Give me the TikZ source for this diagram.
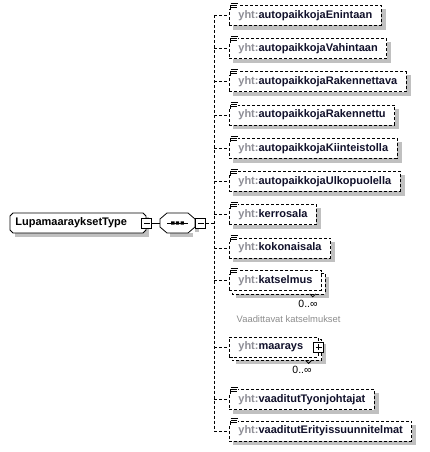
\documentclass[tikz,border=0pt]{standalone}
\usepackage{fontspec}
\setmainfont{Liberation Sans}
\usetikzlibrary{backgrounds,calc}
\definecolor{nsgray}{HTML}{8E8E96}
\definecolor{nametext}{HTML}{10102A}
\definecolor{notegray}{HTML}{8C8C8C}
\definecolor{boxshade}{HTML}{C0C0C0}
\begin{document}
\begin{tikzpicture}[x=1bp, y=-1bp, line width=0.8bp,
		elem/.style={draw, dash pattern=on 3bp off 2bp, fill=white, anchor=west,
			minimum height=20bp, inner xsep=9bp, inner ysep=0pt, text height=8bp, text depth=2.5bp,
			font=\fontsize{11bp}{13bp}\selectfont\bfseries, text=nametext},
		typename/.style={anchor=west, text width=126bp, align=left, minimum height=20bp, inner xsep=5bp,
			inner ysep=0pt, text height=8bp, text depth=2.5bp, font=\fontsize{11bp}{13bp}\selectfont\bfseries},
		minusbox/.style={draw, solid, fill=white, minimum size=10bp, inner sep=0pt,
			path picture={\draw ([xshift=2bp]path picture bounding box.west) -- ([xshift=-2bp]path picture bounding box.east);}},
		plusbox/.style={draw, solid, fill=white, minimum size=10bp, inner sep=0pt,
			path picture={\draw ([xshift=2bp]path picture bounding box.west) -- ([xshift=-2bp]path picture bounding box.east)
				([yshift=2bp]path picture bounding box.south) -- ([yshift=-2bp]path picture bounding box.north);}},
		conn/.style={dash pattern=on 3bp off 2bp},
		shadowbar/.style={anchor=north west, inner sep=0pt, outer sep=0pt},
		mult/.style={font=\fontsize{10.5bp}{12bp}\selectfont},
		note/.style={font=\fontsize{9.4bp}{11bp}\selectfont, text=notegray, anchor=west},
		simpleicon/.pic={
			\fill[white] (-1,-3.5) rectangle (9,4);
			\draw[solid, line width=0.7bp] (1.5,-2) -- (8.5,-2) (2,0) -- (8,0) (2,2) -- (8,2) (1,0) -- (1,4.5);
		}
	]
	\useasboundingbox (0,0) rectangle (429,452);

	% type box and sequence compositor
	\node[shadowbar] (lupashadow) at (15,217) {\color{boxshade}\rule{134bp}{20bp}};
	\node[shadowbar] (seqshadowa) at (170,233) {\color{boxshade}\rule{23bp}{4bp}};
	\node[shadowbar] (seqshadowb) at (195,222) {\color{boxshade}\rule{4bp}{10bp}};
	\filldraw[fill=white] (13,213) -- (143,213) -- (146,216) -- (146,230) -- (143,233) -- (13,233) -- (10,230) -- (10,216) -- cycle;
	\filldraw[fill=white] (167,213) -- (188,213) -- (195,219) -- (195,227) -- (188,233) -- (167,233) -- (160,227) -- (160,219) -- cycle;
	\node[typename] (lupa) at (10,223) {LupamaarayksetType};
	\node[minimum width=35bp, minimum height=20bp, inner sep=0pt] (seq) at (177.5,223) {};
	\node[minusbox] (lupaminus) at (lupa.east) {};
	\node[minusbox, anchor=west] (seqminus) at (seq.east) {};
	\draw ([xshift=-10.5bp]seq.center) -- ([xshift=10.5bp]seq.center);
	\fill ([xshift=-6.4bp,yshift=-1.7bp]seq.center) rectangle ([xshift=-3bp,yshift=1.7bp]seq.center)
		([xshift=-1.7bp,yshift=-1.7bp]seq.center) rectangle ([xshift=1.7bp,yshift=1.7bp]seq.center)
		([xshift=3bp,yshift=-1.7bp]seq.center) rectangle ([xshift=6.4bp,yshift=1.7bp]seq.center);
	\draw (lupaminus) -- (seq);

	% child elements
	\node[elem] (e1) at (229,15.5) {{\color{nsgray}yht:}autopaikkojaEnintaan};
	\node[elem] (e2) at (229,48.7) {{\color{nsgray}yht:}autopaikkojaVahintaan};
	\node[elem] (e3) at (229,81.9) {{\color{nsgray}yht:}autopaikkojaRakennettava};
	\node[elem] (e4) at (229,115.1) {{\color{nsgray}yht:}autopaikkojaRakennettu};
	\node[elem] (e5) at (229,148.3) {{\color{nsgray}yht:}autopaikkojaKiinteistolla};
	\node[elem] (e6) at (229,181.5) {{\color{nsgray}yht:}autopaikkojaUlkopuolella};
	\node[elem] (e7) at (229,214.7) {{\color{nsgray}yht:}kerrosala};
	\node[elem] (e8) at (229,247.9) {{\color{nsgray}yht:}kokonaisala};
	\node[elem] (kat) at (229,280.5) {{\color{nsgray}yht:}katselmus};
	\node[elem] (maar) at (229,347) {{\color{nsgray}yht:}maarays\hspace*{6bp}};
	\node[plusbox] (maarplus) at (maar.east) {};
	\node[elem] (e11) at (229,399.5) {{\color{nsgray}yht:}vaaditutTyonjohtajat};
	\node[elem] (e12) at (229,431) {{\color{nsgray}yht:}vaaditutErityissuunnitelmat};

	% shadows and repeated boxes
	\begin{scope}[on background layer]
		\foreach \el in {e1,e2,e3,e4,e5,e6,e7,e8,e11,e12}
			\path let \p1=(\el.north west), \p2=(\el.south east) in
				node[shadowbar] (\el shadow) at ([shift={(4bp,-4bp)}]\el.north west)
				{\color{boxshade}\rule{\dimexpr\x2-\x1\relax}{\dimexpr\y1-\y2\relax}};
		\foreach \el in {kat,maar}{
			\path let \p1=(\el.north west), \p2=(\el.south east) in
				node[shadowbar] (\el shadow) at ([shift={(7bp,-7bp)}]\el.north west)
				{\color{boxshade}\rule{\dimexpr\x2-\x1\relax}{\dimexpr\y1-\y2\relax}};
			\draw[conn, fill=white] ([shift={(3bp,-3bp)}]\el.north west) rectangle ([shift={(3bp,-3bp)}]\el.south east);
		}
	\end{scope}

	% connectors
	\coordinate (trunk) at (214,223);
	\draw[conn] (seqminus) -- (trunk);
	\draw[conn] (trunk |- e1.west) -- (trunk |- e12.west);
	\draw[conn] (trunk |- e1.west) -- (e1.west);
	\draw[conn] (trunk |- e2.west) -- (e2.west);
	\draw[conn] (trunk |- e3.west) -- (e3.west);
	\draw[conn] (trunk |- e4.west) -- (e4.west);
	\draw[conn] (trunk |- e5.west) -- (e5.west);
	\draw[conn] (trunk |- e6.west) -- (e6.west);
	\draw[conn] (trunk |- e7.west) -- (e7.west);
	\draw[conn] (trunk |- e8.west) -- (e8.west);
	\draw[conn] (trunk |- kat.west) -- (kat.west);
	\draw[conn] (trunk |- maar.west) -- (maar.west);
	\draw[conn] (trunk |- e11.west) -- (e11.west);
	\draw[conn] (trunk |- e12.west) -- (e12.west);

	% simple content icons
	\pic at (e1.north west) {simpleicon};
	\pic at (e2.north west) {simpleicon};
	\pic at (e3.north west) {simpleicon};
	\pic at (e4.north west) {simpleicon};
	\pic at (e5.north west) {simpleicon};
	\pic at (e6.north west) {simpleicon};
	\pic at (e7.north west) {simpleicon};
	\pic at (e8.north west) {simpleicon};
	\pic at (kat.north west) {simpleicon};
	\pic at (e11.north west) {simpleicon};
	\pic at (e12.north west) {simpleicon};

	% occurrences
	\draw ([xshift=-12bp,yshift=-3bp]kat.south east) -- ++(3,3) -- ++(3,-3);
	\node[mult] (katmult) at (308,303.5) {0..∞};
	\node[note] (katnote) at (233,319) {Vaadittavat katselmukset};
	\draw ([xshift=-13bp,yshift=-3bp]maar.south east) -- ++(3,3) -- ++(3,-3);
	\node[mult] (maarmult) at (302,370) {0..∞};
\end{tikzpicture}
\end{document}
